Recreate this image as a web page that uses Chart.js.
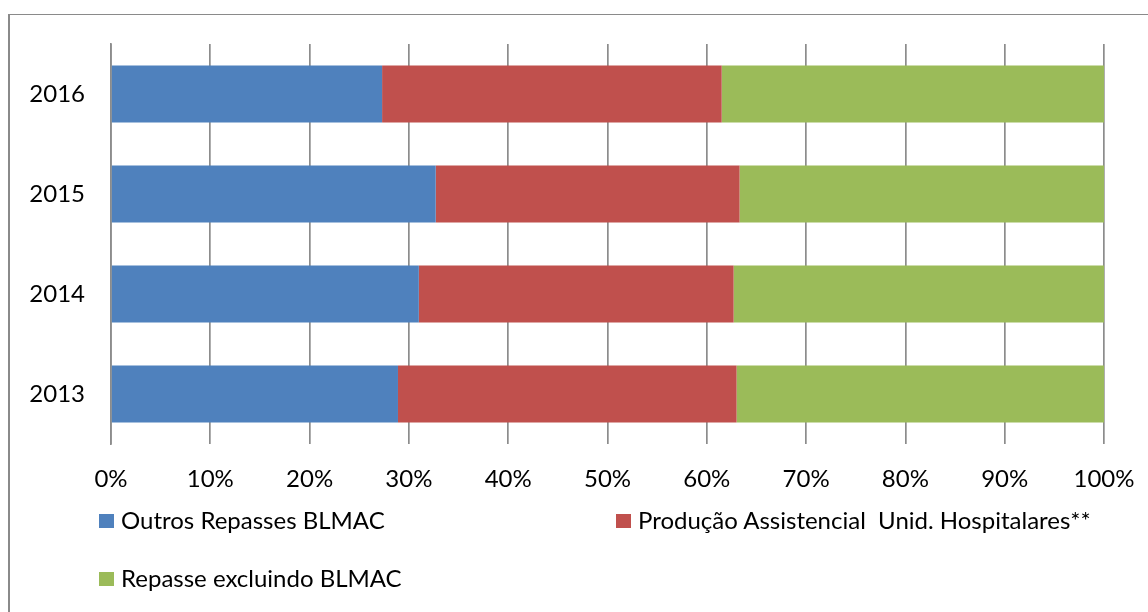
<!DOCTYPE html>
<html>
<head>
<meta charset="utf-8">
<script src="https://cdn.jsdelivr.net/npm/chart.js@4"></script>
<style>
  body { margin: 0; background: #fff; }
  #wrap { position: relative; width: 1148px; height: 612px; overflow: hidden; }
  #frame { position: absolute; left: 8px; top: 14px; right: -4px; bottom: -4px;
           border-left: 2px solid #8a8a8a; border-top: 1.5px solid #8a8a8a; }
  #myChart { position: absolute; left: 0; top: 0; }
  .leg { position: absolute; font-family: Lato, sans-serif; font-size: 24px; color: #000;
         white-space: pre; line-height: 24px; }
  .leg span { display: inline-block; width: 15px; height: 14px; vertical-align: middle;
              margin-right: 7px; position: relative; top: -2px; }
</style>
</head>
<body>
<div id="wrap">
  <div id="frame"></div>
  <canvas id="myChart" width="1148" height="612"></canvas>
  <div id="legend"></div>
</div>
<script>
// categories, top to bottom
const years = ['2016', '2015', '2014', '2013'];

// shares in % per year
const outrosRepasses = [27.3, 32.7, 31.0, 28.9];
const producaoAssist = [34.2, 30.6, 31.7, 34.1];
const repasseExcl = [38.5, 36.7, 37.3, 37.0];

const seriesNames = ['Outros Repasses BLMAC', 'Produção Assistencial  Unid. Hospitalares**', 'Repasse excluindo BLMAC'];
const seriesColors = ['#4F81BD', '#C0504D', '#9BBB59'];

const xTicks = [0, 10, 20, 30, 40, 50, 60, 70, 80, 90, 100];

function loadChart() {
    const ctx = document.getElementById('myChart').getContext('2d');
    const values = [outrosRepasses, producaoAssist, repasseExcl];

    const myChart = new Chart(ctx, {
        type: 'bar',
        data: {
            labels: years,
            datasets: values.map((v, i) => ({
                label: seriesNames[i],
                data: v,
                backgroundColor: seriesColors[i],
                borderWidth: 0,
                categoryPercentage: 1,
                barPercentage: 0.57
            }))
        },
        options: {
            indexAxis: 'y',
            responsive: false,
            animation: false,
            layout: { padding: { left: 0, right: 44, top: 44, bottom: 0 } },
            plugins: { legend: { display: false }, tooltip: { enabled: false } },
            scales: {
                x: {
                    stacked: true,
                    min: 0,
                    max: 100,
                    afterBuildTicks: (scale) => { scale.ticks = xTicks.map(v => ({ value: v })); },
                    afterFit: (scale) => {
                        scale.height = 168;
                        scale.paddingLeft = 0;   // keep plot edges fixed
                        scale.paddingRight = 0;
                    },
                    grid: { color: '#8c8c8c', lineWidth: 1.7, drawTicks: false },
                    border: { display: false },
                    ticks: {
                        padding: 21,
                        color: '#000',
                        font: { family: 'Lato', size: 24 },
                        callback: (v) => v + '%'
                    }
                },
                y: {
                    stacked: true,
                    afterFit: (scale) => { scale.width = 111; },
                    grid: { display: false, drawTicks: false },
                    border: { display: true, color: '#8c8c8c', width: 1.7 },
                    ticks: {
                        padding: 26,
                        color: '#000',
                        font: { family: 'Lato', size: 24 }
                    }
                }
            }
        }
    });

    // legend in two columns, like the original
    const legendPos = [[99, 508], [616, 508], [99, 566]];
    const leg = document.getElementById('legend');
    seriesNames.forEach((name, i) => {
        const d = document.createElement('div');
        d.className = 'leg';
        d.style.left = legendPos[i][0] + 'px';
        d.style.top = legendPos[i][1] + 'px';
        d.innerHTML = '<span style="background:' + seriesColors[i] + '"></span>' + name;
        leg.appendChild(d);
    });
}
document.addEventListener('DOMContentLoaded', loadChart);
</script>
</body>
</html>
